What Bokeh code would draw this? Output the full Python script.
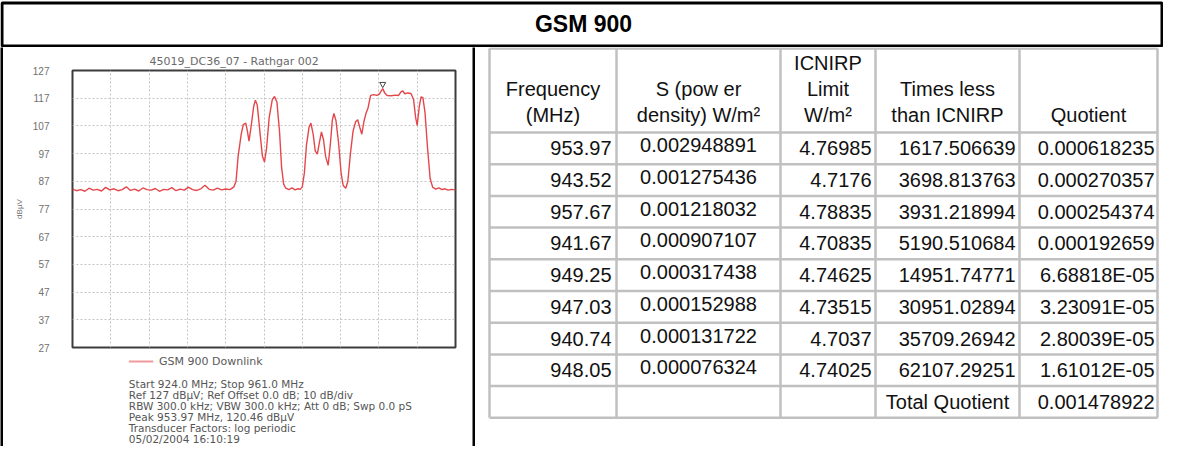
from bokeh.plotting import figure
from bokeh.layouts import column, row
from bokeh.models import Range1d, FixedTicker, Title, ColumnDataSource
from bokeh.embed import file_html
from bokeh.resources import INLINE
from bokeh.core.properties import value

# ---------------- data ----------------
page_title = "GSM 900"
chart_title = "45019_DC36_07 - Rathgar 002"
series_name = "GSM 900 Downlink"
y_label = "dB\u00b5V"
freq_start, freq_stop = 924.0, 961.0
y_ticks = [27, 37, 47, 57, 67, 77, 87, 97, 107, 117, 127]

trace_freq_mhz = [
    924.0, 924.4, 924.8, 925.2, 925.6, 926.0, 926.4, 926.8, 927.2, 927.6,
    928.0, 928.4, 928.8, 929.2, 929.6, 930.0, 930.4, 930.8, 931.2, 931.6,
    932.0, 932.4, 932.8, 933.2, 933.6, 934.0, 934.4, 934.8, 935.2, 935.6,
    936.0, 936.4, 936.8, 937.2, 937.6, 938.0, 938.4, 938.8, 939.2, 939.6,
    939.8, 940.0, 940.3, 940.5, 940.74, 940.9, 941.05, 941.3, 941.5, 941.67,
    941.85, 942.1, 942.35, 942.55, 942.75, 943.0, 943.3, 943.52, 943.75, 944.0,
    944.2, 944.4, 944.6, 944.9, 945.2, 945.5, 945.8, 946.0, 946.2, 946.4,
    946.6, 946.85, 947.03, 947.25, 947.45, 947.65, 947.85, 948.05, 948.25, 948.45,
    948.7, 948.9, 949.1, 949.25, 949.45, 949.7, 949.95, 950.15, 950.4, 950.6,
    950.85, 951.1, 951.35, 951.55, 951.75, 951.95, 952.15, 952.35, 952.55, 952.8,
    953.1, 953.4, 953.65, 953.8, 953.97, 954.15, 954.4, 954.8, 955.2, 955.5,
    955.75, 955.9, 956.1, 956.4, 956.7, 956.95, 957.15, 957.3, 957.5, 957.67,
    957.85, 958.05, 958.3, 958.55, 958.8, 959.1, 959.4, 959.7, 960.0, 960.3,
    960.6, 961.0,
]
trace_level_dbuv = [
    84.2, 83.6, 84.0, 83.4, 84.5, 83.8, 84.1, 83.5, 84.8, 83.9,
    84.3, 83.6, 84.0, 85.0, 83.7, 84.2, 83.5, 84.6, 84.0, 83.8,
    84.4, 83.4, 84.1, 83.9, 84.7, 83.6, 84.2, 83.8, 84.9, 84.0,
    83.7, 84.3, 85.6, 84.1, 83.8, 84.5, 83.9, 84.2, 84.0, 85.0,
    87.0, 96.0, 104.0, 107.5, 108.0, 105.0, 101.5, 108.0, 114.0, 116.3,
    114.5, 105.0, 96.0, 94.0, 99.0, 110.0, 116.5, 117.6, 115.5, 105.0,
    92.0, 86.0, 84.5, 84.0, 84.6, 83.9, 84.3, 84.1, 85.0, 90.0,
    100.0, 106.5, 108.0, 104.0, 98.0, 96.8, 101.0, 104.8, 102.0, 96.0,
    92.8, 100.0, 109.0, 111.5, 109.0, 101.0, 90.0, 85.5, 84.5, 87.0,
    97.0, 105.0, 108.5, 109.2, 106.5, 104.0, 108.5, 111.5, 113.5, 118.0,
    118.3, 118.0, 118.5, 119.5, 120.46, 119.0, 118.0, 117.9, 118.1, 118.0,
    119.4, 119.6, 118.6, 118.9, 118.7, 116.5, 110.0, 107.2, 114.0, 117.5,
    117.2, 112.0, 99.0, 88.0, 84.8, 84.2, 84.6, 84.0, 84.3, 83.8,
    84.1, 83.9,
]
peak_freq, peak_level = 953.97, 120.46

info_lines = [
    "Start 924.0 MHz; Stop 961.0 MHz",
    "Ref 127 dB\u00b5V; Ref Offset 0.0 dB; 10 dB/div",
    "RBW 300.0 kHz; VBW 300.0 kHz; Att 0 dB; Swp 0.0 pS",
    "Peak 953.97 MHz, 120.46 dB\u00b5V",
    "Transducer Factors: log periodic",
    "05/02/2004 16:10:19",
]

tbl_freq = [953.97, 943.52, 957.67, 941.67, 949.25, 947.03, 940.74, 948.05]
tbl_s = [0.002948891, 0.001275436, 0.001218032, 0.000907107,
         0.000317438, 0.000152988, 0.000131722, 0.000076324]
tbl_limit = [4.76985, 4.7176, 4.78835, 4.70835, 4.74625, 4.73515, 4.7037, 4.74025]
tbl_times = [1617.506639, 3698.813763, 3931.218994, 5190.510684,
             14951.74771, 30951.02894, 35709.26942, 62107.29251]
tbl_quot = [0.000618235, 0.000270357, 0.000254374, 0.000192659,
            6.68818e-05, 3.23091e-05, 2.80039e-05, 1.61012e-05]
total_quot = 0.001478922
total_label = "Total Quotient"

# header: (column index, line index 0..2, text)
header_cells = [
    (0, 1, "Frequency"), (0, 2, "(MHz)"),
    (1, 1, "S (pow er"), (1, 2, "density) W/m\u00b2"),
    (2, 0, "ICNIRP"), (2, 1, "Limit"), (2, 2, "W/m\u00b2"),
    (3, 1, "Times less"), (3, 2, "than ICNIRP"),
    (4, 2, "Quotient"),
]

# ---------------- layout (screen px) ----------------
OFF = 8
TOTAL_W = 1163
TITLE_H = 47
BODY_H = 399
BAR_W = 3
CHART_W = 469
TABLE_W = TOTAL_W - 2 * BAR_W - CHART_W
BODY_TOP = OFF + TITLE_H            # 55
BODY_BOT = BODY_TOP + BODY_H        # 454
CHART_LEFT = OFF + BAR_W            # 11
CHART_BOT = 362                     # chart figure / info figure split
FRAME_L, FRAME_R, FRAME_T, FRAME_B = 80, 463, 78, 355
FONT = "Liberation Sans"
CFONT = "DejaVu Sans"


def blank(w, h, xr, yr):
    f = figure(width=w, height=h, x_range=xr, y_range=yr, min_border=0,
               x_axis_type=None, y_axis_type=None, toolbar_location=None,
               output_backend="svg")
    f.outline_line_color = None
    f.grid.visible = False
    return f


# ---------------- title band ----------------
title_fig = blank(TOTAL_W, TITLE_H, Range1d(OFF, OFF + TOTAL_W), Range1d(OFF + TITLE_H, OFF))
title_fig.quad(left=[9.5], right=[1169.5], top=[10.5], bottom=[53.5],
               fill_color=None, line_color="black", line_width=3)
title_fig.text(x=[591], y=[31.5], text=[page_title], text_align="center",
               text_baseline="middle", text_font=value(FONT),
               text_font_size=value("23px"), text_font_style="bold", text_color="black")


# ---------------- separators ----------------
def bar():
    b = blank(BAR_W, BODY_H, Range1d(0, 1), Range1d(0, 1))
    b.background_fill_color = "black"
    b.border_fill_color = "black"
    return b


# ---------------- spectrum chart ----------------
chart = figure(width=CHART_W, height=CHART_BOT - BODY_TOP,
               x_range=Range1d(freq_start, freq_stop), y_range=Range1d(y_ticks[0], y_ticks[-1]),
               min_border_left=FRAME_L - CHART_LEFT, min_border_right=CHART_LEFT + CHART_W - FRAME_R,
               min_border_top=FRAME_T - BODY_TOP, min_border_bottom=CHART_BOT - FRAME_B,
               toolbar_location=None, output_backend="svg")
chart.title = Title(text=chart_title, align="left", offset=157 - FRAME_L, standoff=5,
                    text_font=CFONT, text_font_size="11px", text_font_style="normal",
                    text_color="#6a6a6a")
chart.xaxis.visible = False
chart.yaxis.ticker = FixedTicker(ticks=y_ticks)
chart.yaxis.axis_line_color = None
chart.yaxis.major_tick_line_color = None
chart.yaxis.minor_tick_line_color = None
chart.yaxis.major_label_standoff = 17
chart.yaxis.major_label_text_font = FONT
chart.yaxis.major_label_text_font_size = "10px"
chart.yaxis.major_label_text_color = "#707070"
chart.yaxis.axis_label = y_label
chart.yaxis.axis_label_text_font = FONT
chart.yaxis.axis_label_text_font_size = "8px"
chart.yaxis.axis_label_text_font_style = "normal"
chart.yaxis.axis_label_text_color = "#707070"
chart.yaxis.axis_label_standoff = 6
step = (freq_stop - freq_start) / 10
chart.xgrid.ticker = FixedTicker(ticks=[freq_start + step * k for k in range(1, 10)])
chart.ygrid.ticker = FixedTicker(ticks=y_ticks)
for g in (chart.xgrid, chart.ygrid):
    g.grid_line_color = "#c4c4c4"
    g.grid_line_dash = "2 2"
    g.grid_line_width = 1
chart.outline_line_color = "#3c3c3c"
chart.outline_line_width = 2

TRACE_COLOR = "#e4474b"
src = ColumnDataSource(dict(f=trace_freq_mhz, db=trace_level_dbuv))
chart.line("f", "db", source=src, line_color=TRACE_COLOR, line_width=1.4)
chart.scatter([peak_freq], [peak_level + 1.6], marker="inverted_triangle", size=6,
              fill_color=None, line_color="#444444", line_width=1)

# ---------------- legend + analyser settings below the chart ----------------
info = blank(CHART_W, BODY_BOT - CHART_BOT, Range1d(CHART_LEFT, CHART_LEFT + CHART_W),
             Range1d(BODY_BOT, CHART_BOT))
info.segment(x0=[FRAME_L], y0=[369], x1=[FRAME_L + 30], y1=[369],
             line_color=TRACE_COLOR, line_alpha=0.55, line_width=2)
info.text(x=[FRAME_L + 37], y=[369], text=[series_name], text_baseline="middle",
          text_font=value(CFONT), text_font_size=value("11px"), text_color="#5a5a5a")
info.text(x=[FRAME_L] * len(info_lines), y=[391 + 11 * i for i in range(len(info_lines))],
          text=info_lines, text_baseline="middle", text_font=value(CFONT),
          text_font_size=value("10.5px"), text_color="#555555")

left_panel = column(chart, info)

# ---------------- table ----------------
TABLE_LEFT = CHART_LEFT + CHART_W + BAR_W
table = blank(TABLE_W, BODY_H, Range1d(TABLE_LEFT, TABLE_LEFT + TABLE_W),
              Range1d(BODY_BOT, BODY_TOP))
cols = [497, 624, 788, 883, 1027, 1165]
tbl_top, head_bot, row_h = 56, 140, 31.7
n_rows = len(tbl_freq) + 1
row_lines = [tbl_top] + [head_bot + row_h * k for k in range(n_rows + 1)]
tbl_bot = row_lines[-1]
GRID = dict(line_color="#c0c0c0", line_width=2.5)
table.segment(x0=cols, y0=[tbl_top] * len(cols), x1=cols, y1=[tbl_bot] * len(cols), **GRID)
table.segment(x0=[cols[0]] * len(row_lines), y0=row_lines, x1=[cols[-1]] * len(row_lines),
              y1=row_lines, **GRID)

head_y = [70, 96.5, 122]
hx, hy, ht = [], [], []
for c, ln, t in header_cells:
    hx.append((cols[c] + cols[c + 1]) / 2)
    hy.append(head_y[ln])
    ht.append(t)
TXT = dict(text_baseline="middle", text_font=value(FONT), text_font_size=value("20px"),
           text_color="#111111")
table.text(x=hx, y=hy, text=ht, text_align="center", **TXT)


def fmt_q(q):
    return f"{q:.5E}" if q < 1e-4 else f"{q:.9f}"


row_c = [head_bot + row_h * (k + 0.5) for k in range(n_rows)]
rx, ry, rt = [], [], []
for k in range(len(tbl_freq)):
    yc = row_c[k]
    rx += [cols[1] - 5, cols[3] - 4, cols[4] - 4, cols[5] - 3]
    ry += [yc, yc, yc, yc]
    rt += [f"{tbl_freq[k]:.2f}", f"{tbl_limit[k]:g}", f"{tbl_times[k]:.10g}", fmt_q(tbl_quot[k])]
rx.append(cols[5] - 3)
ry.append(row_c[-1])
rt.append(fmt_q(total_quot))
table.text(x=rx, y=ry, text=rt, text_align="right", **TXT)

cx = [(cols[1] + cols[2]) / 2] * len(tbl_s) + [(cols[3] + cols[4]) / 2]
cy = [row_c[k] - 3 for k in range(len(tbl_s))] + [row_c[-1]]
ct = [f"{s:.9f}" for s in tbl_s] + [total_label]
table.text(x=cx, y=cy, text=ct, text_align="center", **TXT)

layout = column(title_fig, row(bar(), left_panel, bar(), table))
open("out.html", "w").write(file_html(layout, INLINE))
